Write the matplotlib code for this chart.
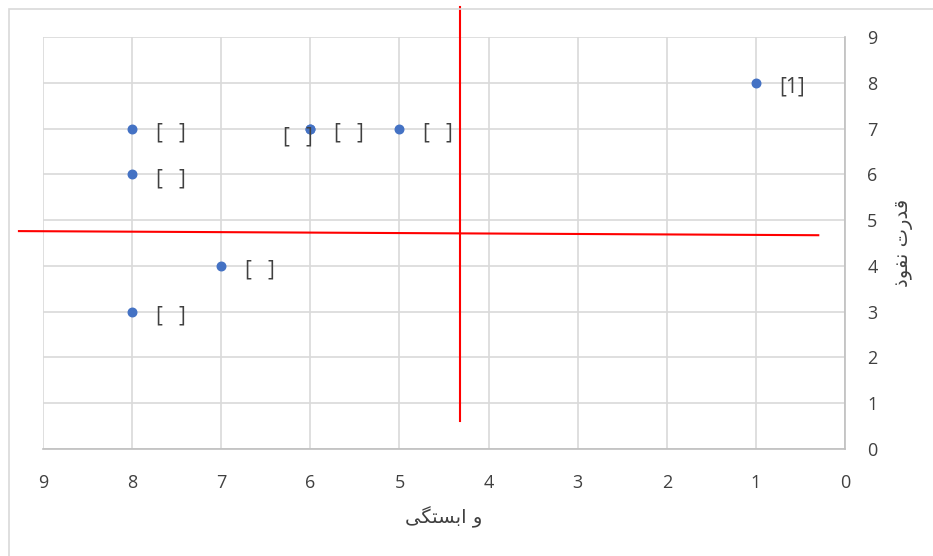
import matplotlib
matplotlib.use("Agg")
import matplotlib.pyplot as plt
from matplotlib.patches import Rectangle

plt.rcParams["font.family"] = ["Open Sans", "DejaVu Sans"]

# points (x = dependence, y = driving power)
xs = [1, 8, 6, 6, 5, 8, 7, 8]
ys = [8, 7, 7, 7, 7, 6, 4, 3]
labels = ["[1]", "[   ]", "[   ]", "[   ]", "[   ]", "[   ]", "[   ]", "[   ]"]
label_side = ["r", "r", "l", "r", "r", "r", "r", "r"]

ticks = list(range(0, 10))

# red quadrant lines (data coords)
vline_x = 4.32
vline_y = (0.61, 9.65)
hline_x = (9.27, 0.30)
hline_y = (4.76, 4.67)

# axis titles, written as shaped presentation forms in visual order
xtitle = "\uFBFD\uFB95\uFE98\uFEB4\uFE91\uFE8D \uFEED"
ytitle = "\uFEAB\uFEEE\uFED4\uFEE7 \uFE95\uFEAD\uFEAA\uFED7"

fig = plt.figure(figsize=(9.33, 5.56), dpi=100)
ax = fig.add_axes([43 / 933, 107 / 556, 802 / 933, 412 / 556])

fig.patches.append(Rectangle((9 / 933, -0.1), 1.2, (556 - 9) / 556 + 0.1,
                             transform=fig.transFigure, fill=False,
                             edgecolor="#d9d9d9", linewidth=1.2))

ax.scatter(xs, ys, s=38, color="#4472c4", zorder=3)
for x, y, t, side in zip(xs, ys, labels, label_side):
    if side == "r":
        ax.annotate(t, (x, y), xytext=(17, -3), textcoords="offset points",
                    ha="left", va="center", fontsize=15, color="#404040")
    else:
        ax.annotate(t, (x, y), xytext=(2, -6), textcoords="offset points",
                    ha="right", va="center", fontsize=15, color="#404040")

ax.set_xlim(9, 0)
ax.set_ylim(0, 9)
ax.set_xticks(ticks)
ax.set_yticks(ticks)
ax.yaxis.tick_right()
ax.yaxis.set_label_position("right")
ax.tick_params(length=0, labelsize=13, colors="#404040")
ax.tick_params(axis="x", pad=18)
ax.tick_params(axis="y", pad=16)
ax.grid(True, color="#d9d9d9", linewidth=1.2)
ax.set_axisbelow(True)
for s in ["top", "left"]:
    ax.spines[s].set_visible(False)
for s in ["right", "bottom"]:
    ax.spines[s].set_color("#bfbfbf")
    ax.spines[s].set_linewidth(1.2)

ax.set_xlabel(xtitle, fontsize=14, color="#404040", family=["DejaVu Sans"], labelpad=10)
ax.set_ylabel(ytitle, fontsize=14, color="#404040", family=["DejaVu Sans"], rotation=90, labelpad=12)

ax.plot([vline_x, vline_x], vline_y, color="red", linewidth=1.5, clip_on=False, zorder=4)
ax.plot(hline_x, hline_y, color="red", linewidth=1.5, clip_on=False, zorder=4)

fig.savefig("out.png", dpi=100)
